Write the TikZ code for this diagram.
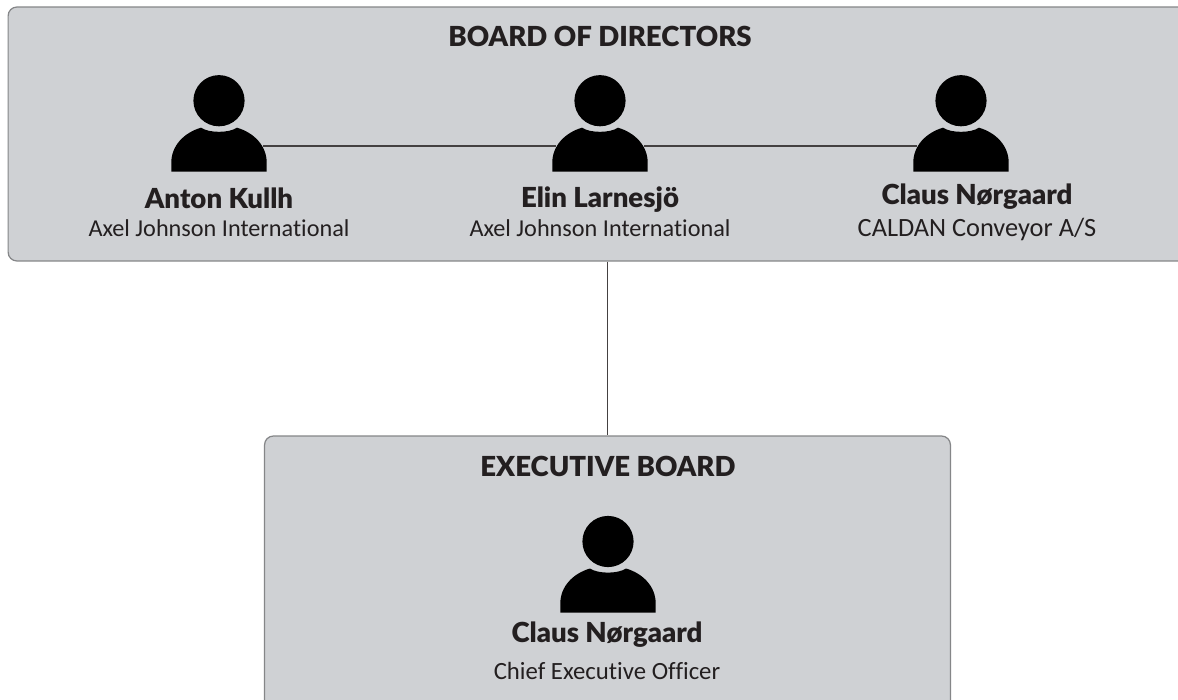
\documentclass[tikz,border=0pt]{standalone}
\usepackage{fontspec}
\setmainfont{Carlito}[Ligatures=NoCommon]
\newfontfamily\heavyfont{Lato Black}
\definecolor{boxgray}{HTML}{CFD1D4}
\definecolor{boxline}{HTML}{858688}
\definecolor{inktext}{HTML}{231F20}
\tikzset{
    orgbox/.style={draw=boxline,fill=boxgray,rounded corners=5pt,line width=0.7pt,inner sep=0pt},
    personbox/.style={minimum width=1.76cm,minimum height=1cm,inner sep=0pt},
    link/.style={draw=inktext!85,line width=0.7pt},
    boxtitle/.style={text=inktext,font=\fontsize{15.7}{18}\heavyfont},
    personname/.style={text=inktext,font=\fontsize{15.7}{18}\heavyfont},
    personrole/.style={text=inktext,font=\fontsize{13.8}{16}\selectfont},
    person/.pic={
        \fill[black] (0,0) circle (25.6);
        \fill[black] (-47.7,71) -- (-47.7,62) .. controls (-47.7,45) and (-35,32) .. (-18,27)
            .. controls (-10,32.5) and (10,32.5) .. (18,27)
            .. controls (35,32) and (47.7,45) .. (47.7,62) -- (47.7,71) -- cycle;
    }
}
\begin{document}
\begin{tikzpicture}[x=0.02cm,y=-0.02cm]
    \clip (0,0) rectangle (1178,700);
    \fill[white] (0,0) rectangle (1178,700);

    % caixas
    \node[orgbox,minimum width=23.98cm,minimum height=5.08cm] (board) at (607.5,134) {};
    \node[orgbox,minimum width=13.72cm,minimum height=6cm] (exec) at (607.5,586) {};
    \draw[link] (board.south) -- (exec.north);

    % titulos
    \node[boxtitle] (boardtitle) at (600,36) {BOARD OF DIRECTORS};
    \node[boxtitle] (exectitle) at (608,466) {EXECUTIVE BOARD};

    % pessoas
    \node[personbox] (anton) at (219,146) {};
    \node[personbox] (elin) at (600,146) {};
    \node[personbox] (claus) at (961,146) {};
    \draw[link] (anton) -- (elin);
    \draw[link] (elin) -- (claus);
    \pic at (219,100.7) {person};
    \pic at (600,100.7) {person};
    \pic at (961,100.7) {person};
    \pic at (608,541.5) {person};

    % nomes
    \node[personname] (antonname) at (219,198) {Anton Kullh};
    \node[personrole] (antonrole) at (219,228) {Axel Johnson International};
    \node[personname] (elinname) at (600,200) {Elin Larnesjö};
    \node[personrole] (elinrole) at (600,228) {Axel Johnson International};
    \node[personname] (clausname) at (977,197) {Claus Nørgaard};
    \node[personrole,font=\fontsize{15}{16}\selectfont] (clausrole) at (977,229) {CALDAN Conveyor A/S};
    \node[personname] (ceoname) at (607,635) {Claus Nørgaard};
    \node[personrole,font=\fontsize{14.1}{16}\selectfont] (ceorole) at (607,671) {Chief Executive Officer};
\end{tikzpicture}
\end{document}
